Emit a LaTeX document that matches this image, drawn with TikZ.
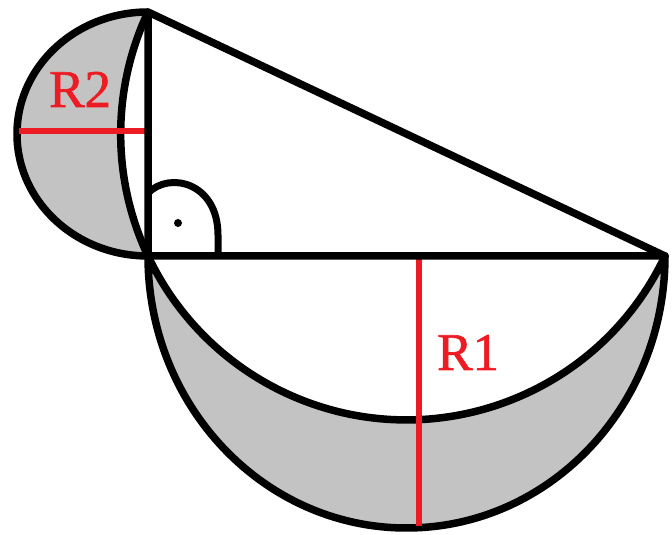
\documentclass[tikz,border=0pt]{standalone}
\usepackage{fontspec}
\setmainfont{Liberation Serif}
\newfontfamily\labfont[FakeBold=1.2]{Liberation Serif}
\definecolor{pred}{RGB}{237,28,36}
\definecolor{pgray}{RGB}{195,195,195}
\begin{document}
\begin{tikzpicture}[x=1pt,y=1pt,
  blk/.style={line width=7.5pt,draw=black,line join=round},
  redl/.style={line width=5.5pt,draw=pred},
  lab/.style={text=pred,font=\labfont\fontsize{53}{53}\selectfont,inner sep=0pt,anchor=base west}]
\useasboundingbox (0,0) rectangle (672,535);
\coordinate (A) at (148,279);
\coordinate (B) at (148,523);
\coordinate (C) at (665,279);
% lunes
\filldraw[blk,fill=pgray] (A) arc[start angle=180,end angle=360,x radius=258.5,y radius=272]
  arc[start angle=-25.26,end angle=-154.74,radius=285.84] -- cycle;
\filldraw[blk,fill=pgray] (B) arc[start angle=90,end angle=270,x radius=131,y radius=122]
  arc[start angle=205.26,end angle=154.74,radius=285.84] -- cycle;
% red radii
\coordinate (r1a) at (419,278);
\coordinate (r1b) at (419,9);
\coordinate (r2a) at (19,404);
\coordinate (r2b) at (146,404);
\draw[redl] (r1a) -- (r1b);
\draw[redl] (r2a) -- (r2b);
% triangle
\draw[blk] (A) -- (B) -- (C) -- cycle;
% right angle mark
\coordinate (m1) at (148,342);
\coordinate (m2) at (218,300);
\coordinate (m3) at (218,279);
\draw[line width=7pt] (m1) .. controls (170,364) and (218,352) .. (m2) -- (m3);
\fill (178,312) circle (4);
% labels
\node[lab] (R2) at (49,428) {R2};
\node[lab] (R1) at (437,165) {R1};
\end{tikzpicture}
\end{document}
